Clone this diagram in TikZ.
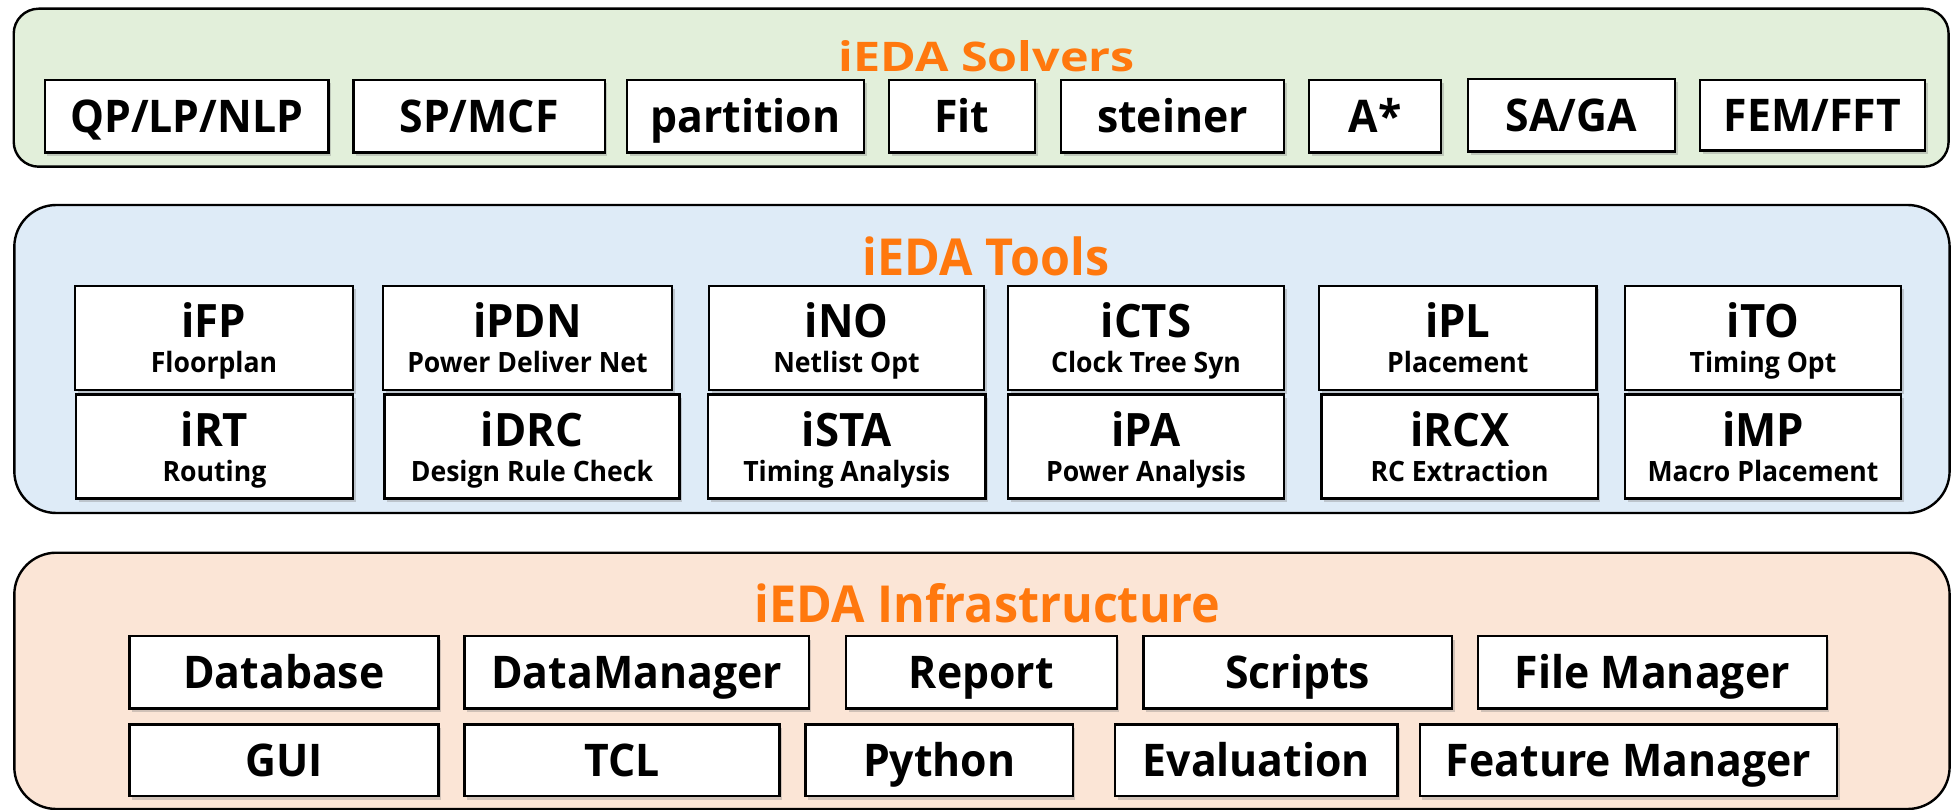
\documentclass[tikz,border=0pt]{standalone}
\usepackage{fontspec}
\setmainfont{Open Sans}[FakeStretch=0.95]
\usetikzlibrary{shadows}
\definecolor{solvfill}{HTML}{E2EFDA}
\definecolor{toolfill}{HTML}{DEEBF7}
\definecolor{infrafill}{HTML}{FBE5D6}
\definecolor{titleorange}{HTML}{FF780E}
\tikzset{
  panel/.style={draw=black, line width=2.4pt},
  ibox/.style={draw=black, fill=white, line width=2.4pt, inner sep=0pt,
    drop shadow={shadow xshift=2.5pt, shadow yshift=-3.5pt, opacity=0.35}},
  lbl/.style={font=\bfseries\fontsize{45}{45}\selectfont, text height=32.1pt, text depth=0pt},
  tmain/.style={anchor=base, inner sep=0pt, font=\bfseries\fontsize{46}{46}\selectfont},
  tsub/.style={anchor=base, inner sep=0pt, font=\bfseries\fontsize{28}{28}\selectfont},
  ptitle/.style={anchor=base, inner sep=0pt, text=titleorange, font=\bfseries\fontsize{51}{51}\selectfont},
}
\newcommand\mkbox[7]{\node[ibox,#6,minimum width={#4-#2},minimum height={#5-#3}] (#1) at ({(#2+#4)/2},{(#3+#5)/2}) {#7};}
\newcommand\mktool[7]{\mkbox{#1}{#2}{#3}{#4}{#5}{}{}
  \node[tmain] (#1-m) at ([yshift=-53pt]#1.north) {#6};
  \node[tsub] (#1-s) at ([yshift=-88pt]#1.north) {#7};}
\begin{document}
\begin{tikzpicture}[x=1pt,y=-1pt]
\clip (0,0) rectangle (1951,810);
% panels
\draw[panel, fill=solvfill, rounded corners=25pt] (13.7,8.7) rectangle (1948.6,166.7);
\draw[panel, fill=toolfill, rounded corners=42pt] (14.3,205) rectangle (1949.6,513);
\draw[panel, fill=infrafill, rounded corners=42pt] (14.3,552.7) rectangle (1949.6,809);
% titles
\node[ptitle] (soltitle) at (986.7,71.7) {\scalebox{1}[0.8]{iEDA Solvers}};
\node[ptitle] (tooltitle) at (986,276) {iEDA Tools};
\node[ptitle] (infratitle) at (987.5,622.3) {iEDA Infrastructure};
% solvers
\mkbox{qp}{44.8}{80}{328.5}{152.7}{lbl}{QP/LP/NLP}
\mkbox{spmcf}{353.4}{80}{604.7}{152.7}{lbl}{SP/MCF}
\mkbox{partition}{627}{80}{864}{152.7}{lbl}{partition}
\mkbox{fit}{889}{80}{1035}{152.7}{lbl}{Fit}
\mkbox{steiner}{1061}{80}{1284}{152.7}{lbl}{steiner}
\mkbox{astar}{1309}{80}{1441}{152.7}{lbl}{A*}
\mkbox{saga}{1468}{79}{1675}{151.7}{lbl}{SA/GA}
\mkbox{femfft}{1700}{80}{1925}{150.7}{lbl}{FEM/FFT}
% tools
\mktool{ifp}{75}{286}{353}{390}{iFP}{Floorplan}
\mktool{ipdn}{383}{286}{672}{390}{iPDN}{Power Deliver Net}
\mktool{ino}{709}{286}{984}{390}{iNO}{Netlist Opt}
\mktool{icts}{1008}{286}{1284}{390}{iCTS}{Clock Tree Syn}
\mktool{ipl}{1319}{286}{1596.5}{390}{iPL}{Placement}
\mktool{ito}{1625}{286}{1901}{390}{iTO}{Timing Opt}
\mktool{irt}{76}{394.3}{353}{498.3}{iRT}{Routing}
\mktool{idrc}{384.5}{394.3}{679.5}{498.3}{iDRC}{Design Rule Check}
\mktool{ista}{708}{394.3}{985.5}{498.3}{iSTA}{Timing Analysis}
\mktool{ipa}{1008}{394.3}{1284}{498.3}{iPA}{Power Analysis}
\mktool{ircx}{1321.5}{394.3}{1597.7}{498.3}{iRCX}{RC Extraction}
\mktool{imp}{1625}{394.3}{1901}{498.3}{iMP}{Macro Placement}
% infrastructure
\mkbox{db}{129.3}{636}{438.3}{708.3}{lbl}{Database}
\mkbox{dm}{464.3}{636}{808.8}{708.3}{lbl}{DataManager}
\mkbox{report}{846}{636}{1116.8}{708.3}{lbl}{Report}
\mkbox{scripts}{1143.4}{636}{1452}{708.3}{lbl}{Scripts}
\mkbox{fileman}{1478}{636}{1826.7}{708.3}{lbl}{File Manager}
\mkbox{gui}{129.3}{724.3}{438.3}{796}{lbl}{GUI}
\mkbox{tcl}{464.3}{724.3}{779.4}{796}{lbl}{TCL}
\mkbox{python}{805.5}{724.3}{1072.9}{796}{lbl}{Python}
\mkbox{evaluation}{1115.2}{724.3}{1397.5}{796}{lbl}{Evaluation}
\mkbox{featman}{1419.9}{724.3}{1837}{796}{lbl}{Feature Manager}
\end{tikzpicture}
\end{document}
